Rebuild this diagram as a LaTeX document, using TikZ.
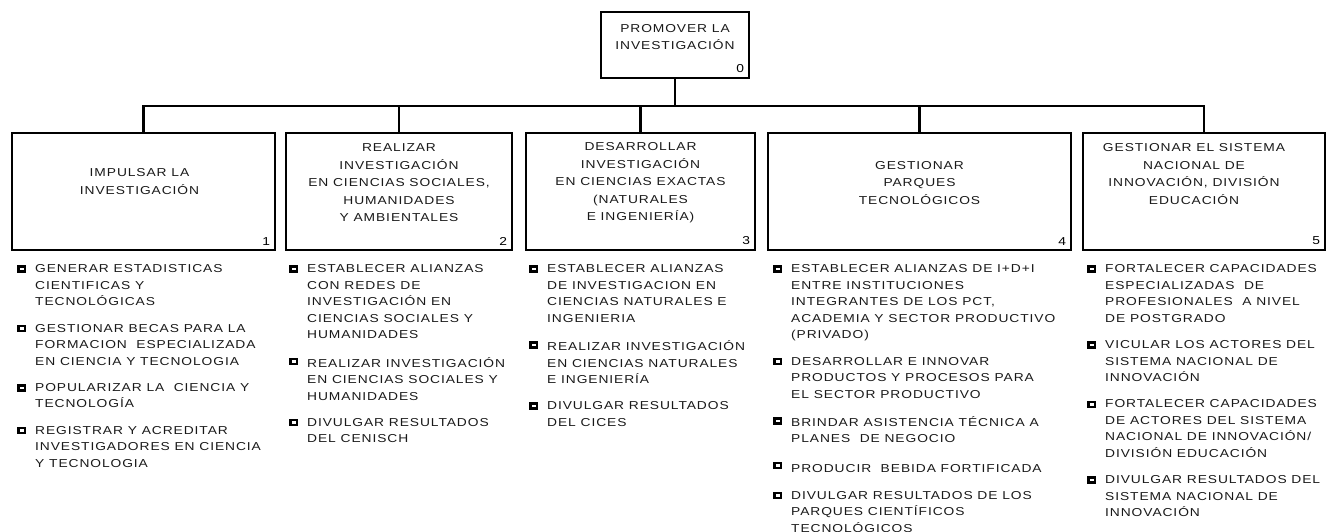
\documentclass[tikz,border=0pt]{standalone}
\usepackage{fontspec}
\setmainfont{Liberation Sans}[FakeStretch=1.2,LetterSpace=8]
\usetikzlibrary{positioning}
\newcommand{\boxfont}{\fontsize{11.5}{17.5}\selectfont}
\newcommand{\listfont}{\fontsize{11.5}{16.5}\selectfont}

\tikzset{
  conn/.style={line width=2.5pt, black},
  unit/.style={draw=black, line width=2.5pt, minimum width=#1, minimum height=117pt, inner sep=0pt},
  title/.style={font=\boxfont, text=black!90, align=center, inner sep=0pt},
  num/.style={font=\boxfont, text=black, inner sep=6pt, anchor=south east},
  bul/.style={fill=black, minimum width=9pt, minimum height=7.5pt, inner sep=0pt, anchor=center,
    xshift=-14pt, yshift=-4.5pt,
    path picture={\fill[white] ([xshift=3pt,yshift=-2.5pt]path picture bounding box.north west)
      rectangle ([xshift=-1.5pt,yshift=2.5pt]path picture bounding box.south east);}},
  item/.style={font=\listfont, text=black!90, align=left, inner sep=0pt, anchor=north west,
    execute at begin node=\strut, execute at end node=\strut, label={[bul]north west:{}}},
  next/.style={below=13pt of #1.south west, anchor=north west}
}

\begin{document}
\begin{tikzpicture}[x=1pt, y=-1pt]
  \useasboundingbox (0,0) rectangle (1330,531);

  % top unit
  \node[draw=black, line width=2.5pt, minimum width=148pt, minimum height=66pt, inner sep=0pt] (prom) at (675,45) {};
  \node[title] (t0) at ([yshift=8pt]prom.center) {PROMOVER LA\\INVESTIGACIÓN};
  \node[num] (n0) at (prom.south east) {0};

  % second level units
  \node[unit=263pt] (b1) at (143.5,191.5) {};
  \node[unit=226pt] (b2) at (399,191.5) {};
  \node[unit=229pt] (b3) at (640.5,191.5) {};
  \node[unit=303pt] (b4) at (919.5,191.5) {};
  \node[unit=242pt] (b5) at (1204,191.5) {};

  \node[title] (t1) at ([xshift=-4pt,yshift=10pt]b1.center) {IMPULSAR LA\\INVESTIGACIÓN};
  \node[title] (t2) at ([yshift=8.5pt]b2.center) {REALIZAR\\INVESTIGACIÓN\\EN CIENCIAS SOCIALES,\\HUMANIDADES\\Y AMBIENTALES};
  \node[title] (t3) at ([yshift=8.5pt]b3.center) {DESARROLLAR\\INVESTIGACIÓN\\EN CIENCIAS EXACTAS\\(NATURALES\\E INGENIERÍA)};
  \node[title] (t4) at ([yshift=8.5pt]b4.center) {GESTIONAR\\PARQUES\\TECNOLÓGICOS};
  \node[title] (t5) at ([xshift=-10pt,yshift=17.5pt]b5.center) {GESTIONAR EL SISTEMA\\NACIONAL DE\\INNOVACIÓN, DIVISIÓN\\EDUCACIÓN};

  \foreach \k in {1,...,5}
    \node[num] (n\k) at (b\k.south east) {\k};

  % connectors
  \coordinate (bus) at (0,106);
  \draw[conn] (prom.south) -- (prom.south |- bus);
  \draw[conn] (b1.north) |- (b5.north |- bus) -- (b5.north);
  \foreach \k in {2,3,4}
    \draw[conn] (b\k.north) -- (b\k.north |- bus);

  % activities
  \node[item] (l11) at (35,264.5) {GENERAR ESTADISTICAS\\CIENTIFICAS Y\\TECNOLÓGICAS};
  \node[item, next=l11] (l12) {GESTIONAR BECAS PARA LA\\FORMACION~ ESPECIALIZADA\\EN CIENCIA Y TECNOLOGIA};
  \node[item, next=l12] (l13) {POPULARIZAR LA~ CIENCIA Y\\TECNOLOGÍA};
  \node[item, next=l13] (l14) {REGISTRAR Y ACREDITAR\\INVESTIGADORES EN CIENCIA\\Y TECNOLOGIA};

  \node[item] (l21) at (307,264.5) {ESTABLECER ALIANZAS\\CON REDES DE\\INVESTIGACIÓN EN\\CIENCIAS SOCIALES Y\\HUMANIDADES};
  \node[item, next=l21] (l22) {REALIZAR INVESTIGACIÓN\\EN CIENCIAS SOCIALES Y\\HUMANIDADES};
  \node[item, next=l22] (l23) {DIVULGAR RESULTADOS\\DEL CENISCH};

  \node[item] (l31) at (547,264.5) {ESTABLECER ALIANZAS\\DE INVESTIGACION EN\\CIENCIAS NATURALES E\\INGENIERIA};
  \node[item, next=l31] (l32) {REALIZAR INVESTIGACIÓN\\EN CIENCIAS NATURALES\\E INGENIERÍA};
  \node[item, next=l32] (l33) {DIVULGAR RESULTADOS\\DEL CICES};

  \node[item] (l41) at (791,264.5) {ESTABLECER ALIANZAS DE I+D+I\\ENTRE INSTITUCIONES\\INTEGRANTES DE LOS PCT,\\ACADEMIA Y SECTOR PRODUCTIVO\\(PRIVADO)};
  \node[item, next=l41] (l42) {DESARROLLAR E INNOVAR\\PRODUCTOS Y PROCESOS PARA\\EL SECTOR PRODUCTIVO};
  \node[item, next=l42] (l43) {BRINDAR ASISTENCIA TÉCNICA A\\PLANES~ DE NEGOCIO};
  \node[item, next=l43] (l44) {PRODUCIR~ BEBIDA FORTIFICADA};
  \node[item, next=l44] (l45) {DIVULGAR RESULTADOS DE LOS\\PARQUES CIENTÍFICOS\\TECNOLÓGICOS};

  \node[item] (l51) at (1105,264.5) {FORTALECER CAPACIDADES\\ESPECIALIZADAS~ DE\\PROFESIONALES~ A NIVEL\\DE POSTGRADO};
  \node[item, next=l51] (l52) {VICULAR LOS ACTORES DEL\\SISTEMA NACIONAL DE\\INNOVACIÓN};
  \node[item, next=l52] (l53) {FORTALECER CAPACIDADES\\DE ACTORES DEL SISTEMA\\NACIONAL DE INNOVACIÓN/\\DIVISIÓN EDUCACIÓN};
  \node[item, next=l53] (l54) {DIVULGAR RESULTADOS DEL\\SISTEMA NACIONAL DE\\INNOVACIÓN};
\end{tikzpicture}
\end{document}
